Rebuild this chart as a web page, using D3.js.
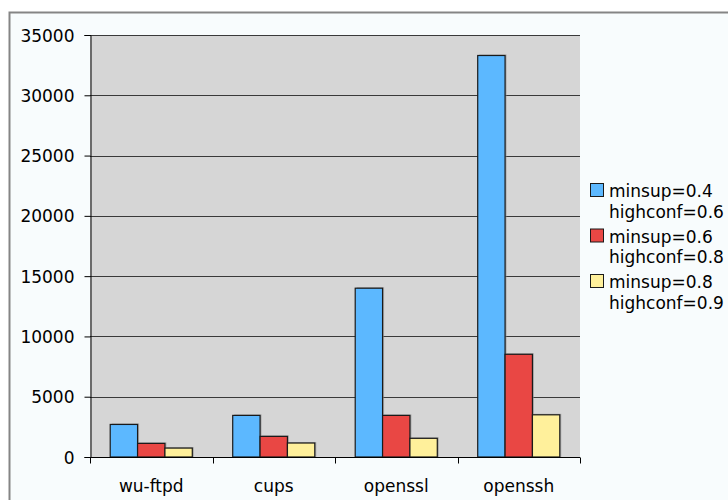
<!DOCTYPE html>
<html><head><meta charset="utf-8">
<script src="https://cdn.jsdelivr.net/npm/d3@7"></script>
<style>
html,body{margin:0;padding:0;background:#ffffff;}
svg{display:block;}
text{font-family:"DejaVu Sans",Verdana,sans-serif;fill:#000;}
</style></head><body>
<svg id="chart" width="728" height="500"></svg>
<script>
const categories = ["wu-ftpd", "cups", "openssl", "openssh"];
const seriesNames = [["minsup=0.4", "highconf=0.6"], ["minsup=0.6", "highconf=0.8"], ["minsup=0.8", "highconf=0.9"]];
const series1 = [2700, 3450, 14000, 33300];
const series2 = [1130, 1710, 3450, 8520];
const series3 = [740, 1160, 1550, 3500];
const yTicks = [0, 5000, 10000, 15000, 20000, 25000, 30000, 35000];
const colors = ["#5cb8ff", "#e94744", "#fff09b"];

const seriesValues = [series1, series2, series3];
const svg = d3.select("#chart");

// outer frame
svg.append("rect").attr("x", 0).attr("y", 0).attr("width", 728).attr("height", 500).attr("fill", "#ffffff");
svg.append("rect").attr("x", 9.5).attr("y", 12.5).attr("width", 730).attr("height", 500)
  .attr("fill", "#f8fcfd").attr("stroke", "#858585").attr("stroke-width", 2);

const pLeft = 90, pRight = 580, pTop = 35, pBottom = 457;
const x = d3.scaleBand().domain(categories).range([pLeft, pRight]).paddingInner(0).paddingOuter(0);
const y = d3.scaleLinear().domain([0, 35000]).range([pBottom, pTop]);

// plot background
svg.append("rect").attr("x", pLeft).attr("y", pTop).attr("width", pRight - pLeft).attr("height", pBottom - pTop).attr("fill", "#d6d6d6");

// gridlines
svg.append("g").selectAll("line").data(yTicks.filter(d => d > 0)).join("line")
  .attr("x1", pLeft).attr("x2", pRight)
  .attr("y1", d => Math.round(y(d)) + 0.5).attr("y2", d => Math.round(y(d)) + 0.5)
  .attr("stroke", "#3a3a3a").attr("stroke-width", 1);

// bars
const inner = x.bandwidth() * 0.165;
const bw = (x.bandwidth() - 2 * inner) / 3;
const gBars = svg.append("g");
seriesValues.forEach((vals, si) => {
  gBars.selectAll(null).data(vals).join("rect")
    .attr("x", (d, i) => x(categories[i]) + inner + si * bw + 1.5)
    .attr("y", d => y(d) - 1)
    .attr("width", bw)
    .attr("height", d => pBottom - y(d) + 1)
    .attr("fill", "#8a8a8a").attr("opacity", 0.6);
});
seriesValues.forEach((vals, si) => {
  gBars.selectAll(null).data(vals).join("rect")
    .attr("x", (d, i) => x(categories[i]) + inner + si * bw)
    .attr("y", d => y(d))
    .attr("width", bw)
    .attr("height", d => pBottom - y(d))
    .attr("fill", colors[si]).attr("stroke", "#1a1a1a").attr("stroke-width", 1.2);
});

// y axis
const yAxis = d3.axisLeft(y).tickValues(yTicks).tickSize(6).tickPadding(10).tickFormat(d3.format("d"));
const gy = svg.append("g").attr("transform", `translate(${pLeft + 0.5},0)`).call(yAxis);
gy.select(".domain").attr("stroke", "#000");
gy.selectAll(".tick line").attr("stroke", "#000");
gy.selectAll("text").style("font-size", "17px").attr("dy", "0.36em");

// x axis
const xAxis = d3.axisBottom(x).tickSize(0).tickPadding(22);
const gx = svg.append("g").attr("transform", `translate(0,${pBottom + 0.5})`).call(xAxis);
gx.select(".domain").attr("stroke", "#000").attr("d", `M${pLeft},0H${pRight}`);
gx.selectAll("text").style("font-size", "17px");
gx.selectAll(".bt").data(categories.concat([null])).join("line").attr("class", "bt")
  .attr("x1", (d, i) => Math.round(pLeft + i * x.bandwidth()) + 0.5)
  .attr("x2", (d, i) => Math.round(pLeft + i * x.bandwidth()) + 0.5)
  .attr("y1", 0).attr("y2", 6).attr("stroke", "#000");

// legend
const lg = svg.append("g").attr("transform", "translate(590,183)");
seriesNames.forEach((names, i) => {
  const g = lg.append("g").attr("transform", `translate(0,${i * 45.5})`);
  g.append("rect").attr("x", 0.5).attr("y", 0.5).attr("width", 13).attr("height", 13)
    .attr("fill", colors[i]).attr("stroke", "#1a1a1a").attr("stroke-width", 1);
  g.append("text").attr("x", 19).attr("y", 14).style("font-size", "17px").text(names[0]);
  g.append("text").attr("x", 19).attr("y", 34.5).style("font-size", "17px").text(names[1]);
});
</script>
</body></html>
